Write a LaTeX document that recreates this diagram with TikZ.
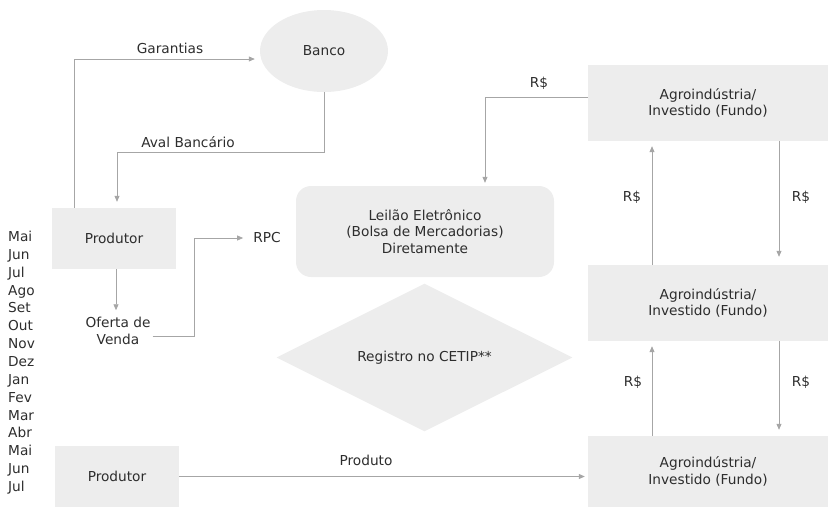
\documentclass[tikz,border=0pt]{standalone}
\usepackage{fontspec}
\setmainfont{DejaVu Sans}
\usetikzlibrary{positioning,arrows.meta,shapes.geometric}
\definecolor{fundo}{RGB}{237,237,237}
\definecolor{linha}{RGB}{166,166,166}
\definecolor{texto}{RGB}{45,45,45}

\begin{document}
\begin{tikzpicture}[x=1pt,y=-1pt,
  every node/.style={font=\fontsize{13.7}{16.5}\selectfont, text=texto},
  caixa/.style={fill=fundo, minimum width=124pt, minimum height=61pt},
  agro/.style={fill=fundo, minimum width=240pt, align=center},
  seta/.style={draw=linha, line width=0.8pt, -{Triangle[length=6pt,width=5pt]}}]
\useasboundingbox (0,0) rectangle (828,507);

% caixas
\node [ellipse,fill=fundo,minimum width=128pt,minimum height=82pt] (banco) at (324,51) {Banco};
\node [caixa] (prod1) at (114,238.5) {Produtor};
\node [caixa] (prod2) at (117,476.5) {Produtor};
\node [fill=fundo,rounded corners=15pt,minimum width=258pt,minimum height=91pt,align=center] (leilao) at (425,231.5) {Leilão Eletrônico\\(Bolsa de Mercadorias)\\Diretamente};
\node [diamond,fill=fundo,minimum width=296pt,minimum height=145pt,inner sep=0pt] (cetip) at (424.5,357.5) {Registro no CETIP**};
\node [agro,minimum height=76pt] (agro1) at (708,103) {Agroindústria/\\Investido (Fundo)};
\node [agro,minimum height=76pt] (agro2) at (708,303) {Agroindústria/\\Investido (Fundo)};
\node [agro,minimum height=71pt] (agro3) at (708,471.5) {Agroindústria/\\Investido (Fundo)};
\node [align=center,inner sep=2pt] (oferta) at (118,331) {Oferta de\\Venda};
\node [inner sep=2pt] (rpc) at (267,238) {RPC};

% meses
\foreach \mes [count=\i] in {Mai,Jun,Jul,Ago,Set,Out,Nov,Dez,Jan,Fev,Mar,Abr,Mai,Jun,Jul}
  \node [anchor=base west,inner sep=0pt] (mes\i) at (8,{241.5+17.86*(\i-1)}) {\mes};

% pontos de dobra
\coordinate (gar) at (74,59);
\coordinate (aval) at (117,152);
\coordinate (venda) at (194,336);
\coordinate (pag) at (485,97);
\coordinate (sobe) at (652,0);
\coordinate (desce) at (779,0);

% setas
\draw [seta,shorten >=5pt] (prod1.north -| gar) |- (banco.west |- gar);
\draw [seta,shorten >=6pt] (banco.south) |- (aval) -- (prod1.north -| aval);
\draw [seta,shorten >=5pt] (prod1.south -| 116,0) -- (oferta.north -| 116,0);
\draw [seta,shorten >=8pt] (oferta.east |- venda) -- (venda) |- (rpc.west);
\draw [seta,shorten >=3pt] (agro1.west |- pag) -| (leilao.north -| pag);
\draw [seta,shorten >=5pt] (agro2.north -| sobe) -- (agro1.south -| sobe);
\draw [seta,shorten >=8pt] (agro1.south -| desce) -- (agro2.north -| desce);
\draw [seta,shorten >=5pt] (agro3.north -| sobe) -- (agro2.south -| sobe);
\draw [seta,shorten >=6pt] (agro2.south -| desce) -- (agro3.north -| desce);
\draw [seta,shorten >=3pt] (prod2.east) -- (agro3.west |- prod2.east);

% rotulos
\node (garantias) at (170,48) {Garantias};
\node (avalbanc) at (188,142) {Aval Bancário};
\node (rs1) at (539,83) {R\$};
\node (rs2) at (632,197) {R\$};
\node (rs3) at (801,197) {R\$};
\node (rs4) at (633,382) {R\$};
\node (rs5) at (801,382) {R\$};
\node (produto) at (366,460) {Produto};
\end{tikzpicture}
\end{document}
